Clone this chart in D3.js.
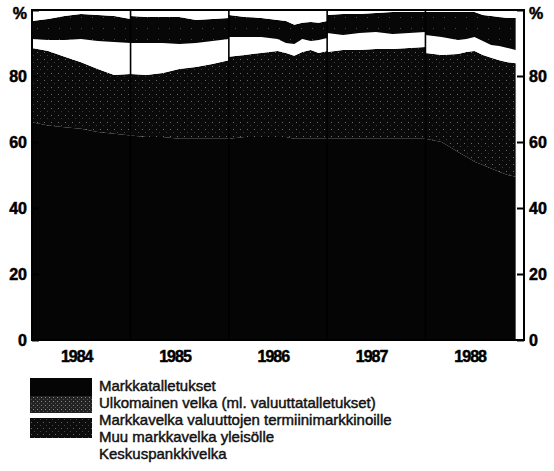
<!DOCTYPE html>
<html>
<head>
<meta charset="utf-8">
<script src="https://cdn.jsdelivr.net/npm/d3@7"></script>
<style>
  body { margin: 0; background: #fff; }
  text { font-family: "Liberation Sans", Arial, sans-serif; }
</style>
</head>
<body>
<div id="chart"></div>
<script>
// months (duplicated month = statistical break at year end)
var months = ["1984-01","1984-03","1984-05","1984-07","1984-09","1984-11","1985-01",
  "1985-01","1985-03","1985-05","1985-07","1985-09","1985-11","1986-01",
  "1986-01","1986-03","1986-05","1986-07","1986-08","1986-09","1986-10","1986-11","1986-12","1987-01",
  "1987-01","1987-03","1987-05","1987-07","1987-09","1987-11","1988-01",
  "1988-01","1988-03","1988-05","1988-06","1988-07","1988-08","1988-09","1988-10","1988-11","1988-12"];

var markkatalletukset = [66,65,64.5,64,63,62.5,62, 62,61.5,61.5,61,61,61,61,
  61,61.5,61.5,61.5,61.5,61,61,61,61,61, 61,61,61,61,61,61,61,
  61,60,57,55.5,54,53,52,51,50,49.5];
var ulkomainen = [22.5,22.6,21.3,20.2,19.1,17.8,18.6, 18.6,18.8,19.4,21.1,21.7,22.6,23.8,
  24.8,24.9,25.5,26.1,25.5,25.1,26.3,26.9,26.0,26.6, 26.3,26.9,26.9,27.2,27.2,27.5,27.8,
  26.0,26.4,29.7,31.8,33.6,33.4,33.5,33.8,34.2,34.4];
var termiini = [2.7,3.3,5.1,7.0,8.5,10.0,9.4, 9.4,9.7,9.1,7.6,7.3,7.0,6.4,
  6.0,5.4,4.8,3.6,3.0,3.6,3.9,2.7,3.9,3.9, 5.7,4.5,5.1,5.1,4.5,4.5,4.5,
  5.4,5.4,4.2,3.9,4.2,4.2,3.9,4.3,4.3,4.0];
var muuVelka = [5.5,6.4,7.3,7.6,7.9,7.9,7.3, 8.2,7.9,7.9,8.2,7.0,6.7,6.4,
  6.7,6.1,5.8,5.8,6.7,5.8,4.9,5.8,5.2,5.2, 5.5,6.4,5.8,5.8,6.7,6.4,6.1,
  7.0,7.6,8.5,8.2,7.6,7.9,8.8,8.8,9.1,9.7];
var keskuspankki = [3.3,2.7,1.8,1.2,1.5,1.8,2.7, 1.8,2.1,2.1,2.1,3.0,2.7,2.4,
  1.5,2.1,2.4,3.0,3.3,4.5,3.9,3.6,3.9,3.3, 1.5,1.2,1.2,0.9,0.6,0.6,0.6,
  0.6,0.6,0.6,0.6,0.6,1.5,1.8,2.1,2.4,2.4];

var seriesNames = ["Markkatalletukset", "Ulkomainen velka (ml. valuuttatalletukset)",
  "Markkavelka valuuttojen termiinimarkkinoille", "Muu markkavelka yleisölle", "Keskuspankkivelka"];
var years = ["1984","1985","1986","1987","1988"];
var yTicks = [0,20,40,60,80,100];
var breaks = ["1985-01","1986-01","1987-01","1988-01"];

var W = 554, H = 471;
var mLeft = 32, mRight = 524, mTop = 10, mBottom = 340;

var parse = d3.timeParse("%Y-%m");
var parseDay = d3.timeParse("%Y-%m-%d");

var rows = months.map(function(m, i) {
  return { date: parse(m), s0: markkatalletukset[i], s1: ulkomainen[i], s2: termiini[i], s3: muuVelka[i], s4: keskuspankki[i] };
});

var svg = d3.select("#chart").append("svg").attr("width", W).attr("height", H);

// stipple patterns for the scanned grey tones
var defs = svg.append("defs");
function stipple(id, size, bg, dots) {
  var p = defs.append("pattern").attr("id", id).attr("width", size).attr("height", size).attr("patternUnits", "userSpaceOnUse");
  p.append("rect").attr("width", size).attr("height", size).attr("fill", bg);
  dots.forEach(function(d) {
    p.append("rect").attr("x", d[0]).attr("y", d[1]).attr("width", 1).attr("height", 1).attr("fill", d[2]);
  });
}
stipple("stipA", 7, "#0a0a0a", [[2, 3, "#6a6a6a"], [5, 6, "#3c3c3c"]]);
stipple("stipB", 11, "#070707", [[4, 6, "#4a4a4a"]]);
stipple("stipL", 4, "#222", [[1, 1, "#8a8a8a"], [3, 3, "#555"]]);
stipple("stipM", 6, "#0d0d0d", [[1, 2, "#666"], [4, 5, "#444"]]);

var fills = ["#050505", "url(#stipA)", "#ffffff", "url(#stipB)", "#ffffff"];

var x = d3.scaleTime().domain([parse("1984-01"), parse("1989-01")]).range([mLeft, mRight]);
var y = d3.scaleLinear().domain([0, 100]).range([mBottom, mTop]);

var stack = d3.stack().keys(["s0","s1","s2","s3","s4"]);
var layers = stack(rows);

var area = d3.area()
  .x(function(d) { return x(d.data.date); })
  .y0(function(d) { return y(d[0]); })
  .y1(function(d) { return y(d[1]); });

svg.append("g")
  .selectAll("path")
  .data(layers)
  .enter()
  .append("path")
    .attr("d", area)
    .attr("fill", function(d, i) { return fills[i]; });

// year break lines
svg.append("g")
  .selectAll("line")
  .data(breaks)
  .enter()
  .append("line")
    .attr("x1", function(d) { return x(parse(d)); })
    .attr("x2", function(d) { return x(parse(d)); })
    .attr("y1", y(100)).attr("y2", y(0))
    .attr("stroke", "#000").attr("stroke-width", 1.6);

// frame
svg.append("rect")
  .attr("x", mLeft).attr("y", mTop).attr("width", mRight - mLeft).attr("height", mBottom - mTop)
  .attr("fill", "none").attr("stroke", "#000").attr("stroke-width", 2);

var fmt = function(d) { return d === 100 ? "%" : d; };

var yl = svg.append("g").attr("transform", "translate(" + mLeft + ",0)")
  .call(d3.axisLeft(y).tickValues(yTicks).tickSize(-7).tickPadding(5).tickFormat(fmt));
var yr = svg.append("g").attr("transform", "translate(" + mRight + ",0)")
  .call(d3.axisRight(y).tickValues(yTicks).tickSize(-7).tickPadding(5).tickFormat(fmt));
[yl, yr].forEach(function(g) {
  g.select(".domain").remove();
  g.selectAll(".tick line").attr("stroke", "#000").attr("stroke-width", 2);
  g.selectAll("text").attr("fill", "#000").style("font-size", "16px").style("font-weight", "bold")
    .style("font-family", "'Liberation Sans', Arial, sans-serif")
    .attr("stroke", "#000").attr("stroke-width", 0.5);
  g.selectAll(".tick").filter(function(d) { return d === 100; }).select("text").attr("dy", "0.55em");
});

// year labels
svg.append("g")
  .selectAll("text")
  .data(years)
  .enter()
  .append("text")
    .attr("x", function(d) { return x(parseDay(d + "-06-15")); })
    .attr("y", 362)
    .attr("text-anchor", "middle")
    .attr("stroke", "#000").attr("stroke-width", 0.5)
    .style("font-size", "16px").style("font-weight", "bold").style("letter-spacing", "-1px")
    .text(function(d) { return d; });

// legend
var swatchTop = [378, 396, null, 418, null];
var swatchH = [18, 17, 0, 20, 0];
var legendFills = ["#050505", "url(#stipL)", "#ffffff", "url(#stipM)", "#ffffff"];
var leg = svg.append("g");
leg.selectAll("rect")
  .data(seriesNames.filter(function(d, i) { return swatchTop[i] !== null; }))
  .enter()
  .append("rect")
    .attr("x", 30)
    .attr("y", function(d) { return swatchTop[seriesNames.indexOf(d)]; })
    .attr("width", 62)
    .attr("height", function(d) { return swatchH[seriesNames.indexOf(d)]; })
    .attr("fill", function(d) { return legendFills[seriesNames.indexOf(d)]; });
leg.selectAll("text")
  .data(seriesNames)
  .enter()
  .append("text")
    .attr("x", 99)
    .attr("y", function(d, i) { return 391 + i * 17; })
    .style("font-size", "15px")
    .attr("fill", "#111").attr("stroke", "#111").attr("stroke-width", 0.45)
    .text(function(d) { return d; });
</script>
</body>
</html>
